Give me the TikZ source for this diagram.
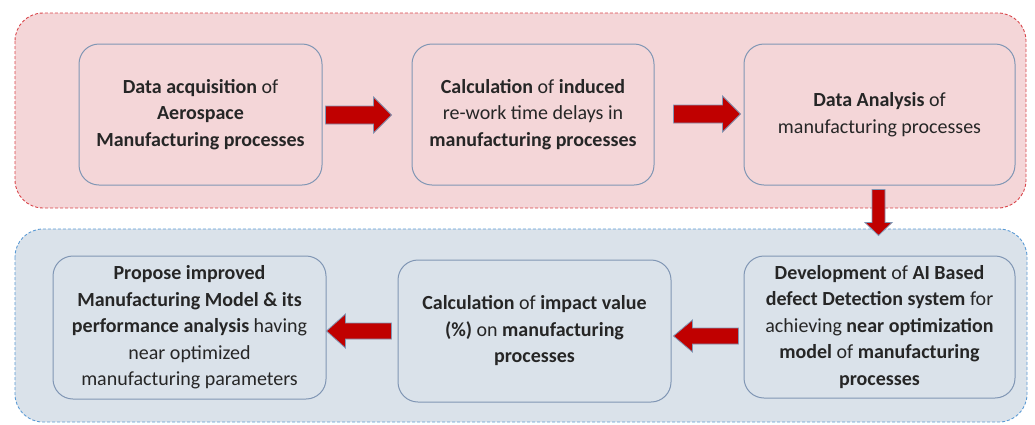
\documentclass[tikz,border=0pt]{standalone}
\usepackage{fontspec}
\setmainfont{Carlito}
\usetikzlibrary{calc}
\definecolor{pinkfill}{HTML}{F4D6D8}
\definecolor{pinkline}{HTML}{D9454A}
\definecolor{bluefill}{HTML}{DAE2EA}
\definecolor{blueline}{HTML}{5B9BD5}
\definecolor{boxline}{HTML}{8096B4}
\definecolor{arrred}{HTML}{C00000}
\definecolor{txt}{HTML}{262626}
\tikzset{
  container/.style={rounded corners=28pt, dash pattern=on 3pt off 2pt, line width=0.9pt},
  procbox/.style={draw=boxline, line width=1pt, rounded corners=20pt, align=center,
    font=\fontsize{20}{26.5}\selectfont, text=txt, inner sep=2pt},
  blk/.style={fill=arrred, draw=boxline, line width=0.8pt, line join=miter},
  pics/barrow/.style args={#1/#2/#3/#4}{code={
    \draw[blk] (0,#2) -- (#1-#4,#2) -- (#1-#4,#3) -- (#1,0) -- (#1-#4,-#3)
      -- (#1-#4,-#2) -- (0,-#2) -- cycle;}}
}
\begin{document}
\begin{tikzpicture}[x=1pt,y=1pt]
\useasboundingbox (0,0) rectangle (1035,-424);
% containers
\draw[container, draw=pinkline, fill=pinkfill] (15,-13) rectangle (1026,-208);
\draw[container, draw=blueline, fill=bluefill] (15,-229) rectangle (1027,-422);
% top row
\node[procbox, minimum width=243pt, minimum height=141pt] (b1) at (200.5,-114.5)
  {\textbf{Data acquisition} of\\ \textbf{Aerospace}\\ \textbf{Manufacturing processes}};
\node[procbox, minimum width=242pt, minimum height=141pt] (b2) at (533,-114.5)
  {\textbf{Calculation} of \textbf{induced}\\ re-work time delays in\\ \textbf{manufacturing processes}};
\node[procbox, minimum width=271pt, minimum height=141pt] (b3) at (879.5,-114.5)
  {\textbf{Data Analysis} of\\ manufacturing processes};
% bottom row
\node[procbox, minimum width=273pt, minimum height=143pt] (b4) at (189.5,-327.5)
  {\textbf{Propose improved}\\ \textbf{Manufacturing Model \& its}\\ \textbf{performance analysis} having\\ near optimized\\ manufacturing parameters};
\node[procbox, minimum width=273pt, minimum height=142pt] (b5) at (534.5,-331)
  {\textbf{Calculation} of \textbf{impact value}\\ \textbf{(\%)} on \textbf{manufacturing}\\ \textbf{processes}};
\node[procbox, minimum width=271pt, minimum height=142pt] (b6) at (879.5,-327)
  {\textbf{Development} of \textbf{AI Based}\\ \textbf{defect Detection system} for\\ achieving \textbf{near optimization}\\ \textbf{model} of \textbf{manufacturing}\\ \textbf{processes}};
% block arrows between boxes
\pic at ($(b1.east)+(3,-0.5)$) {barrow=66/9/18/18};
\pic at ($(b2.east)+(19,0.5)$) {barrow=67/9/18/18};
\pic[rotate=-90] at ($(b3.south)+(-1,-4)$) {barrow=46/6.5/13.5/13};
\pic[rotate=180] at ($(b6.west)+(-5,-9)$) {barrow=65/8/16/19};
\pic[rotate=180] at ($(b5.west)+(-6,0)$) {barrow=65/8/17/19};
\end{tikzpicture}
\end{document}
